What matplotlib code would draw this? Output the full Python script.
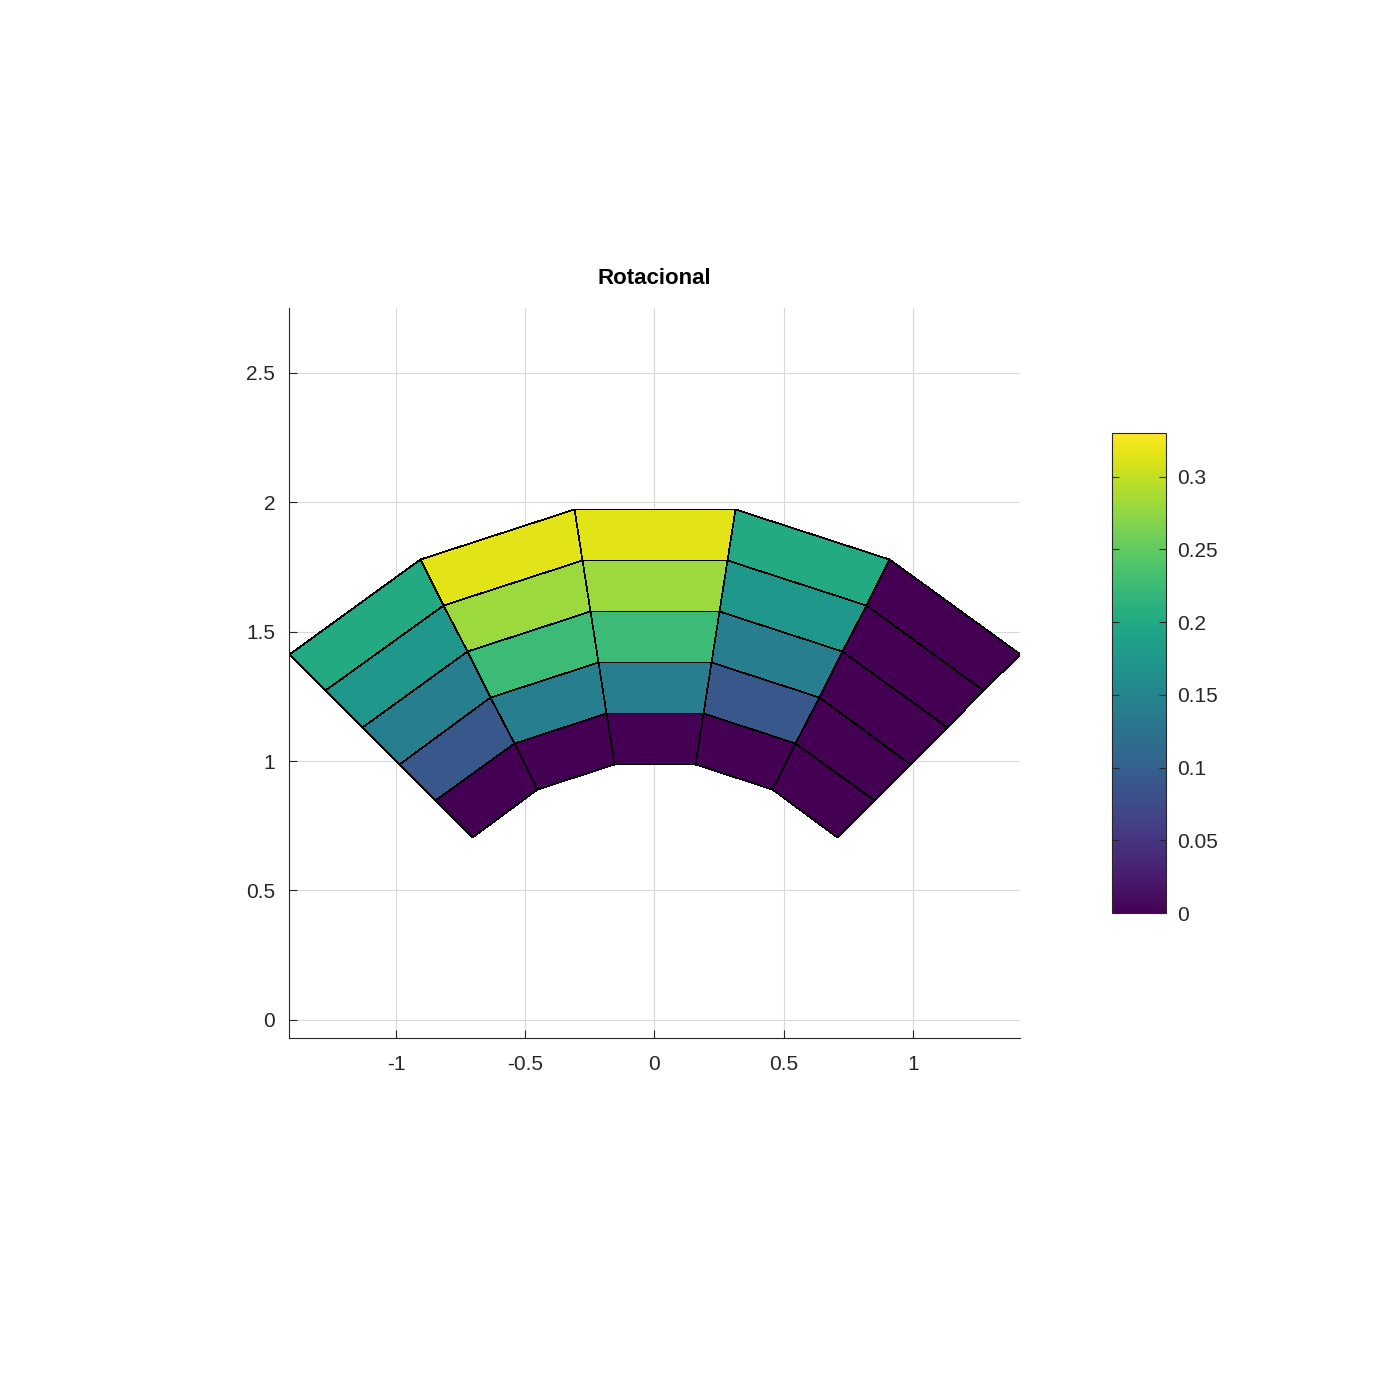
import numpy as np
import matplotlib
matplotlib.use("Agg")
import matplotlib.pyplot as plt

# Mesh nodes (polar): angles in degrees, radii
theta_deg = [45, 63, 81, 99, 117, 135]
radii = [1.0, 1.2, 1.4, 1.6, 1.8, 2.0]

# Cell values: rows = radial layers (inner -> outer), cols = angular sectors (45deg -> 135deg)
values = [
    [0.000, 0.000, 0.000, 0.000, 0.000],
    [0.000, 0.090, 0.140, 0.140, 0.090],
    [0.000, 0.140, 0.225, 0.225, 0.140],
    [0.000, 0.175, 0.280, 0.280, 0.175],
    [0.000, 0.200, 0.315, 0.315, 0.200],
]
vmin, vmax = 0.0, 0.33
cbar_ticks = [0, 0.05, 0.1, 0.15, 0.2, 0.25, 0.3]
xticks = [-1, -0.5, 0, 0.5, 1]
yticks = [0, 0.5, 1, 1.5, 2, 2.5]

plt.rcParams['font.family'] = ['Liberation Sans', 'DejaVu Sans']

fig = plt.figure(figsize=(13.94, 13.95), dpi=100)
ax = fig.add_axes([0.2073, 0.2559, 0.5244, 0.5233])

T, R = np.meshgrid(np.deg2rad(theta_deg), radii)
X = R * np.cos(T)
Y = R * np.sin(T)
mesh = ax.pcolormesh(X, Y, np.array(values), cmap='viridis', vmin=vmin, vmax=vmax,
                     edgecolors='black', linewidth=0.5, shading='flat', zorder=2)

ax.set_xlim(-1.414, 1.414)
ax.set_ylim(-0.07, 2.75)
ax.set_xticks(xticks)
ax.set_xticklabels(['-1', '-0.5', '0', '0.5', '1'])
ax.set_yticks(yticks)
ax.set_yticklabels(['0', '0.5', '1', '1.5', '2', '2.5'])
ax.grid(True, color='#d9d9d9', linewidth=0.8, zorder=0)
ax.set_axisbelow(True)
for s in ['top', 'right']:
    ax.spines[s].set_visible(False)
for s in ['left', 'bottom']:
    ax.spines[s].set_color('#262626')
    ax.spines[s].set_linewidth(0.8)
ax.tick_params(direction='in', length=6, width=0.8, colors='#262626', labelsize=15)
ax.tick_params(axis='y', pad=10)
ax.tick_params(axis='x', pad=12)
ax.set_title('Rotacional', fontsize=16, fontweight='bold', pad=17)

cax = fig.add_axes([0.7977, 0.3455, 0.0387, 0.3441])
cb = fig.colorbar(mesh, cax=cax)
cb.set_ticks(cbar_ticks)
cb.set_ticklabels(['0', '0.05', '0.1', '0.15', '0.2', '0.25', '0.3'])
cb.outline.set_linewidth(0.8)
cb.outline.set_edgecolor('#262626')
cax.tick_params(direction='in', length=5, width=0.8, colors='#262626', labelsize=15,
                left=True, right=True, pad=8)

fig.savefig('out.png', dpi=100, facecolor='white')
